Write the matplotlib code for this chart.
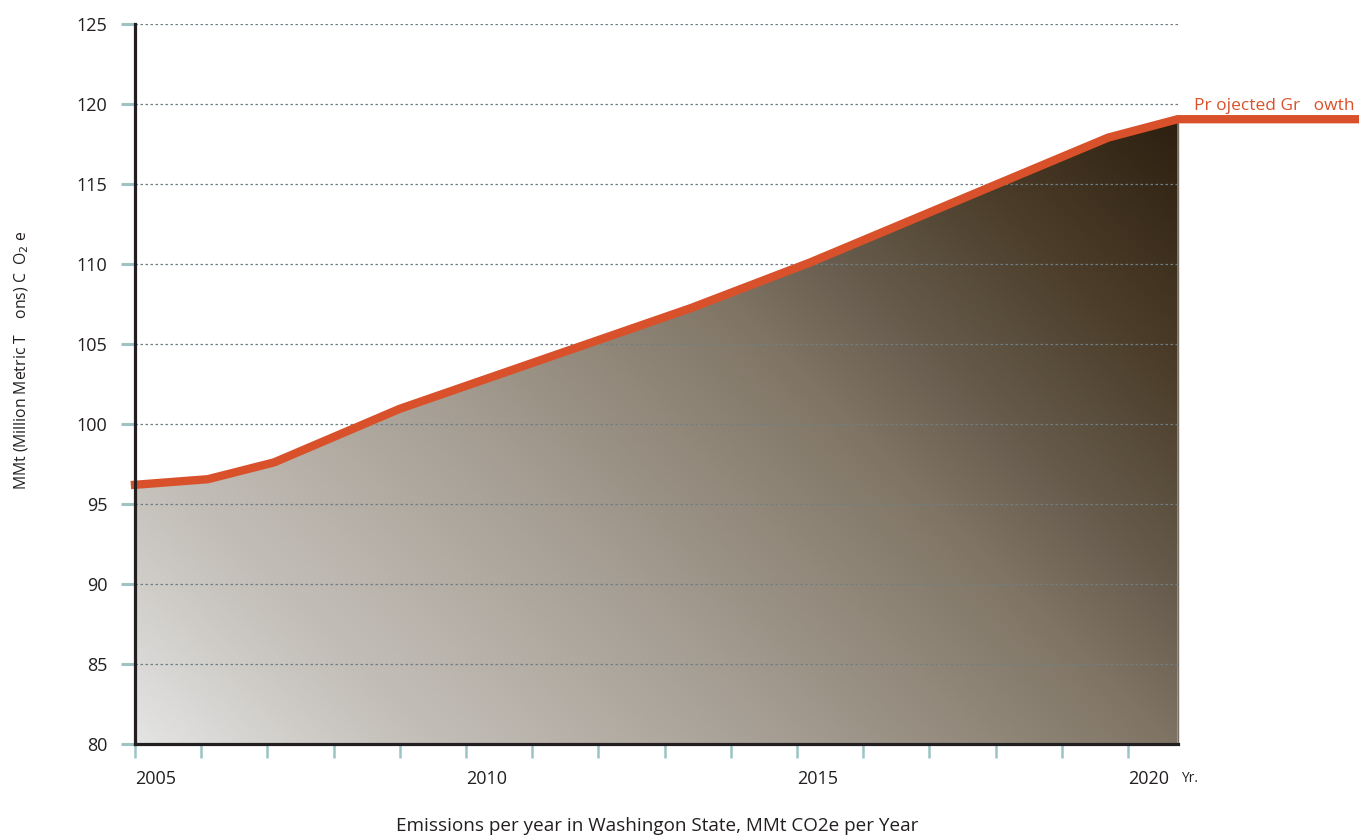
import matplotlib
matplotlib.use("Agg")
import matplotlib.pyplot as plt
from matplotlib.colors import LinearSegmentedColormap
import numpy as np

# 값
years = [2005, 2006.1, 2007.1, 2009.0, 2013.4, 2015.2, 2019.7, 2020.75]
emissions = [96.2, 96.55, 97.6, 100.95, 107.25, 110.1, 117.9, 119.05]
proj_years = [2020.75, 2023.5]
proj_values = [119.05, 119.05]
yticks = [80, 85, 90, 95, 100, 105, 110, 115, 120, 125]
year_ticks = list(range(2005, 2021))
year_labels = [2005, 2010, 2015, 2020]

plt.rcParams['font.family'] = ['Open Sans', 'DejaVu Sans']

W, H = 1359, 839
fig = plt.figure(figsize=(W / 100, H / 100), dpi=100)
ax = fig.add_axes([135 / W, (H - 744) / H, (W - 135) / W, 720 / H])
x_end = 2005 + (W - 135) / 66.2
ax.set_xlim(2005, x_end)
ax.set_ylim(80, 125)

# 그라데이션 채우기 (왼쪽 아래 밝게, 오른쪽 위 어둡게)
cmap = LinearSegmentedColormap.from_list(
    "fill", [(0.0, "#e4e4e4"), (0.15, "#c6c2bc"), (0.4, "#a49c91"),
             (0.62, "#807565"), (0.7, "#6a5f50"), (0.85, "#4a3c28"),
             (1.0, "#2e2010")])
gx = np.linspace(0, 1, 400)
gy = np.linspace(0, 1, 400)
GX, GY = np.meshgrid(gx, gy)
t = np.clip((GX * 1043 + GY * 720) / 1669, 0, 1)
img = ax.imshow(t, cmap=cmap, origin="lower", aspect="auto",
                extent=[2005, years[-1], 80, 125], zorder=1, vmin=0, vmax=1,
                interpolation="bilinear")
poly = ax.fill_between(years, emissions, 80, color="none", lw=0)
clip = poly.get_paths()[0]
img.set_clip_path(clip, transform=ax.transData)

# 격자선
for v in yticks[1:]:
    ax.plot([2005, years[-1]], [v, v], color="#6f7f84", lw=0.9,
            ls=(0, (2, 2)), zorder=2)

ax.plot([years[-1], years[-1]], [80, emissions[-1]], color="#7a6e60", lw=1, zorder=2)

# 선
ax.plot(years + proj_years[1:], emissions + proj_values[1:], color="#d9512a",
        lw=6, solid_joinstyle="miter", zorder=4, clip_on=False)

ax.text(2021.0, 119.6, "Pr ojected Gr   owth", color="#d9512a", fontsize=12.5,
        va="baseline", ha="left", zorder=5)

# 축
for s in ["top", "right"]:
    ax.spines[s].set_visible(False)
ax.spines["left"].set_linewidth(2.3)
ax.spines["left"].set_color("#231f20")
ax.spines["bottom"].set_linewidth(2.3)
ax.spines["bottom"].set_color("#231f20")
ax.spines["bottom"].set_bounds(2005, years[-1])
ax.spines["left"].set_zorder(6)
ax.spines["bottom"].set_zorder(6)

ax.set_yticks(yticks)
ax.set_yticklabels([str(v) for v in yticks])
ax.tick_params(axis="y", length=10, width=2.2, color="#9cc4c4", labelsize=13,
               labelcolor="#231f20", pad=10)
ax.set_xticks(year_ticks)
ax.set_xticklabels([str(y) if y in year_labels else "" for y in year_ticks])
ax.tick_params(axis="x", length=10, width=1.8, color="#9cc4c4", labelsize=13,
               labelcolor="#231f20", pad=8.5)
for lab in ax.get_xticklabels():
    lab.set_horizontalalignment("left")

ax.text(2020.8, 77.85, "Yr.", fontsize=10, color="#231f20", va="center", ha="left")

fig.text(22 / W, 1 - 360 / H, "MMt (Million Metric T    ons) C  O$_2$ e",
         rotation=90, fontsize=11.3, color="#231f20", ha="center", va="center")
fig.text(657 / W, 1 - 826 / H, "Emissions per year in Washingon State, MMt CO2e per Year",
         fontsize=13.6, color="#231f20", ha="center", va="center")

fig.savefig("out.png", dpi=100)
